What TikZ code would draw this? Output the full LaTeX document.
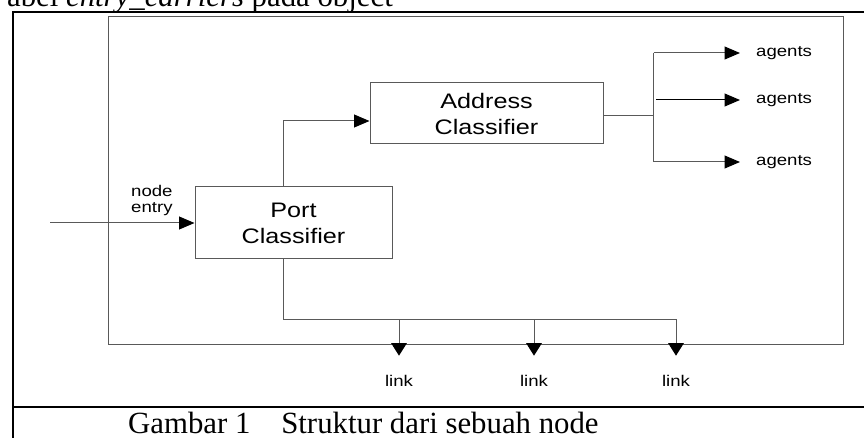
\documentclass[tikz,border=0pt]{standalone}
\usepackage{fontspec}
\setmainfont{Liberation Serif}
\newfontfamily\diagfont[FakeStretch=1.2]{Liberation Sans}
\usetikzlibrary{arrows.meta}
\tikzset{
  wire/.style={draw=black!65, line width=1pt},
  rightflow/.style={wire, -{Triangle[length=15.5pt,width=13pt,black]}},
  downflow/.style={wire, -{Triangle[length=12.5pt,width=15.5pt,black]}},
  blockbox/.style={draw=black!65, line width=1pt, align=center, inner sep=0pt,
    font=\diagfont\fontsize{21}{26}\selectfont},
  smalltext/.style={inner sep=0pt, font=\diagfont\fontsize{15.5}{16}\selectfont},
  frameline/.style={draw=black, line width=2pt},
  doctext/.style={inner sep=0pt, font=\fontsize{30.8}{31}\selectfont},
}
\begin{document}
\begin{tikzpicture}[x=1pt, y=-1pt]
\useasboundingbox (0,0) rectangle (864,438);
\begin{scope}
  \clip (0,0) rectangle (864,438);
  % running text above the figure
  \node[doctext, anchor=base east] (head) at (393,7) {abel \textit{entry\_carriers} pada object};
  % table frame around the figure
  \draw[frameline] (12.5,440) -- (12.5,12) -- (866,12);
  \draw[frameline] (12.5,407) -- (866,407);
\end{scope}

% the node boundary
\node[draw=black!65, line width=1pt, minimum width=735, minimum height=328,
      inner sep=0pt, anchor=north west] (nodebox) at (108,16) {};

% classifiers
\node[blockbox, minimum width=233, minimum height=61] (addr) at (486.5,113.5) {Address\\Classifier};
\node[blockbox, minimum width=197, minimum height=72] (port) at (293.5,223) {Port\\Classifier};

% entry into the node
\coordinate (src) at (50,223);
\node[smalltext, align=left, anchor=west] (entrylbl) at (131,200) {node\\entry};
\draw[rightflow] (src) -- (port.west);

% port classifier to address classifier
\draw[rightflow] ([xshift=-10.5pt]port.north) |- ([yshift=-7.5pt]addr.west);

% address classifier fans out to agents
\coordinate (hub) at (653.5,116);
\coordinate (hubtop) at (653.5,53);
\coordinate (hubbot) at (653.5,162);
\coordinate (hubmid) at (656,100);
\draw[wire] ([yshift=-2.5pt]addr.east) -- (hub);
\draw[wire] (hubtop) -- (hubbot);
\node[smalltext, anchor=west] (ag1) at (756,53) {agents};
\node[smalltext, anchor=west] (ag2) at (756,100) {agents};
\node[smalltext, anchor=west] (ag3) at (756,162) {agents};
\draw[rightflow, shorten >=16pt] (hubtop) -- (ag1.west);
\draw[rightflow, draw=black, shorten >=16pt] (hubmid) -- (ag2.west);
\draw[rightflow, shorten >=16pt] (hubbot) -- (ag3.west);

% port classifier out to the links
\coordinate (d1) at (399,319);
\coordinate (d2) at (534,319);
\coordinate (d3) at (676,319);
\draw[wire] ([xshift=-10.5pt]port.south) |- (d3);
\node[smalltext] (lk1) at (399,381) {link};
\node[smalltext] (lk2) at (534,381) {link};
\node[smalltext] (lk3) at (676,381) {link};
\draw[downflow, shorten >=19.5pt] (d1) -- (lk1);
\draw[downflow, shorten >=19.5pt] (d2) -- (lk2);
\draw[downflow, shorten >=19.5pt] (d3) -- (lk3);

% caption
\node[doctext, anchor=base west] (cap) at (128,433) {Gambar 1\hspace{1em}Struktur dari sebuah node};
\end{tikzpicture}
\end{document}
